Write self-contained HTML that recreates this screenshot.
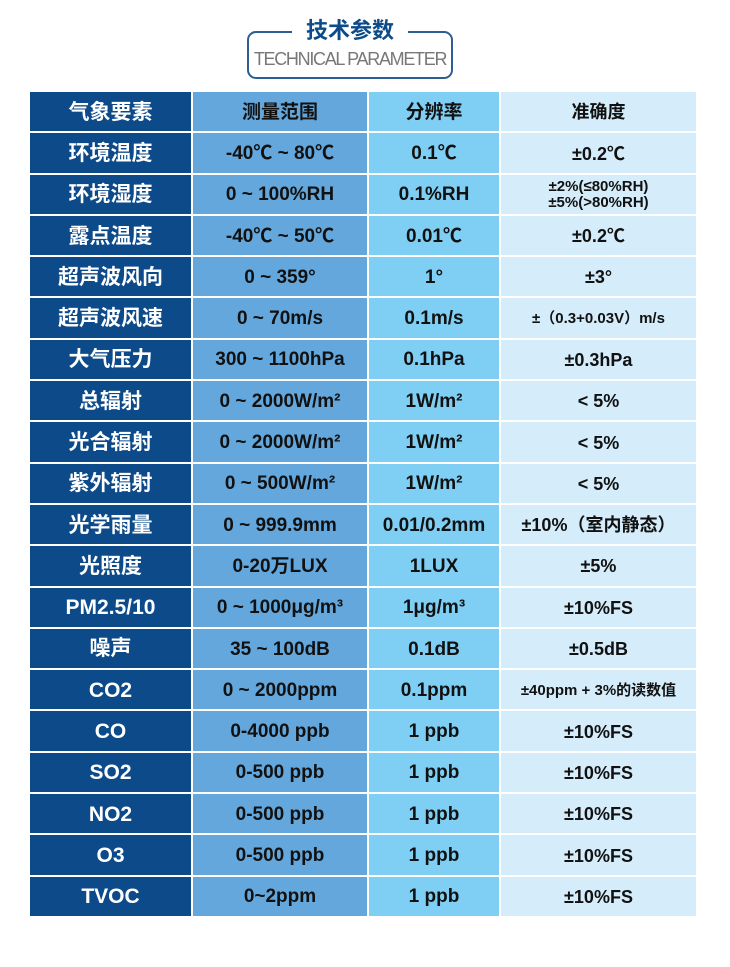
<!DOCTYPE html>
<html><head><meta charset="utf-8"><style>
body{margin:0;width:730px;height:967px;background:#fff;position:relative;overflow:hidden;font-family:"Liberation Sans","Noto Sans CJK SC",sans-serif}
table{position:absolute;left:28px;top:90px;border-collapse:separate;border-spacing:2px;}
td{height:37.3px;padding:2px 0 0 0;text-align:center;font-weight:bold;font-size:19px;color:#111;line-height:1.05;white-space:nowrap}
td.a{width:161px;background:#0c4a8a;color:#fff;font-size:21px}
td.b{width:174px;background:#63a7dc}
td.c{width:130px;background:#7fcff4}
td.d{width:195px;background:#d5edfb;font-size:18px}
td.s{font-size:15px}
</style></head><body>
<div style="position:absolute;left:247px;top:31px;width:206px;height:48px;border:2px solid #2e5d93;border-radius:9px;box-sizing:border-box"></div>
<div style="position:absolute;left:292px;top:18px;width:116px;height:26px;background:#fff;text-align:center;font-weight:bold;font-size:22px;color:#0d4a8a;line-height:26px">技术参数</div>
<div style="position:absolute;left:237px;top:48px;width:226px;text-align:center;font-size:18px;color:#777;letter-spacing:-1.3px;line-height:22px;white-space:nowrap">TECHNICAL PARAMETER</div>
<table>
<tr><td class="a">气象要素</td><td class="b">测量范围</td><td class="c">分辨率</td><td class="d">准确度</td></tr>
<tr><td class="a">环境温度</td><td class="b">-40℃ ~ 80℃</td><td class="c">0.1℃</td><td class="d">±0.2℃</td></tr>
<tr><td class="a">环境湿度</td><td class="b">0 ~ 100%RH</td><td class="c">0.1%RH</td><td class="d s">±2%(≤80%RH)<br>±5%(&gt;80%RH)</td></tr>
<tr><td class="a">露点温度</td><td class="b">-40℃ ~ 50℃</td><td class="c">0.01℃</td><td class="d">±0.2℃</td></tr>
<tr><td class="a">超声波风向</td><td class="b">0 ~ 359°</td><td class="c">1°</td><td class="d">±3°</td></tr>
<tr><td class="a">超声波风速</td><td class="b">0 ~ 70m/s</td><td class="c">0.1m/s</td><td class="d s">±（0.3+0.03V）m/s</td></tr>
<tr><td class="a">大气压力</td><td class="b">300 ~ 1100hPa</td><td class="c">0.1hPa</td><td class="d">±0.3hPa</td></tr>
<tr><td class="a">总辐射</td><td class="b">0 ~ 2000W/m²</td><td class="c">1W/m²</td><td class="d">&lt; 5%</td></tr>
<tr><td class="a">光合辐射</td><td class="b">0 ~ 2000W/m²</td><td class="c">1W/m²</td><td class="d">&lt; 5%</td></tr>
<tr><td class="a">紫外辐射</td><td class="b">0 ~ 500W/m²</td><td class="c">1W/m²</td><td class="d">&lt; 5%</td></tr>
<tr><td class="a">光学雨量</td><td class="b">0 ~ 999.9mm</td><td class="c">0.01/0.2mm</td><td class="d">±10%（室内静态）</td></tr>
<tr><td class="a">光照度</td><td class="b">0-20万LUX</td><td class="c">1LUX</td><td class="d">±5%</td></tr>
<tr><td class="a">PM2.5/10</td><td class="b">0 ~ 1000μg/m³</td><td class="c">1μg/m³</td><td class="d">±10%FS</td></tr>
<tr><td class="a">噪声</td><td class="b">35 ~ 100dB</td><td class="c">0.1dB</td><td class="d">±0.5dB</td></tr>
<tr><td class="a">CO2</td><td class="b">0 ~ 2000ppm</td><td class="c">0.1ppm</td><td class="d s">±40ppm + 3%的读数值</td></tr>
<tr><td class="a">CO</td><td class="b">0-4000 ppb</td><td class="c">1 ppb</td><td class="d">±10%FS</td></tr>
<tr><td class="a">SO2</td><td class="b">0-500 ppb</td><td class="c">1 ppb</td><td class="d">±10%FS</td></tr>
<tr><td class="a">NO2</td><td class="b">0-500 ppb</td><td class="c">1 ppb</td><td class="d">±10%FS</td></tr>
<tr><td class="a">O3</td><td class="b">0-500 ppb</td><td class="c">1 ppb</td><td class="d">±10%FS</td></tr>
<tr><td class="a">TVOC</td><td class="b">0~2ppm</td><td class="c">1 ppb</td><td class="d">±10%FS</td></tr>
</table>
</body></html>
